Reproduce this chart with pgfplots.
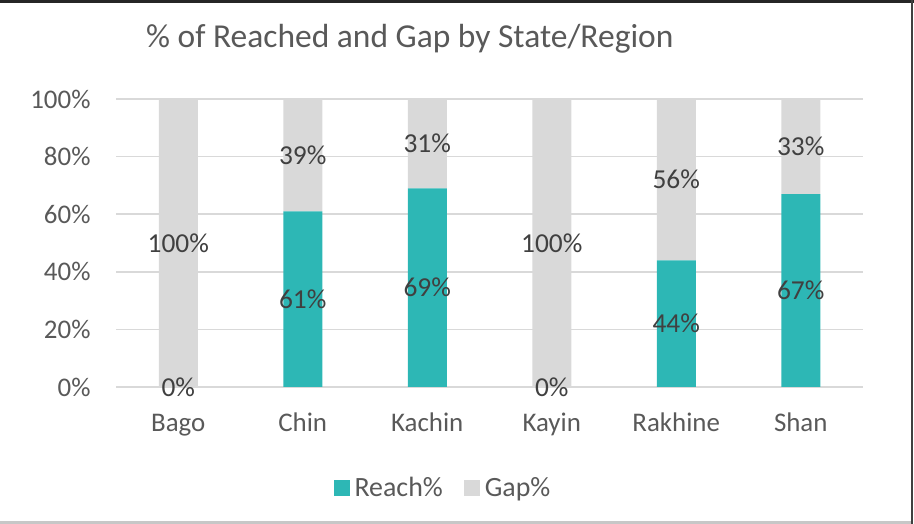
\documentclass[border=0pt]{standalone}
\usepackage{pgfplots}
\pgfplotsset{compat=1.18}
\usepackage{pgfplotstable}
\usepackage{fontspec}
\setmainfont{Carlito}
\definecolor{teal1}{RGB}{45,183,181}
\definecolor{gap1}{RGB}{217,217,217}
\definecolor{txt}{RGB}{64,64,64}
\definecolor{tick}{RGB}{89,89,89}
\pgfplotstableread{
x r g
0 0 100
1 61 39
2 69 31
3 0 100
4 44 56
5 67 33
}\datatab
\begin{document}
\begin{tikzpicture}
\path[use as bounding box] (0,0) rectangle (914bp,524bp);
\draw[line width=2.5bp, black!85] (0,522.5bp) -- (914bp,522.5bp);
\draw[line width=2bp, black!75] (912bp,0) -- (912bp,524bp);
\draw[line width=2bp, black!22] (0,1.5bp) -- (911bp,1.5bp);
\node[anchor=west, text=tick, font=\fontsize{33.6}{38}\selectfont, inner sep=0pt] at (146bp,485.5bp) {\% of Reached and Gap by State/Region};
\begin{axis}[
  at={(116bp,137bp)}, anchor=south west,
  scale only axis, width=747bp, height=288bp,
  ybar stacked, bar width=39bp,
  xmin=-0.5, xmax=5.5, ymin=0, ymax=100,
  xtick={0,...,5},
  xticklabels={Bago,Chin,Kachin,Kayin,Rakhine,Shan},
  ytick={0,20,...,100},
  yticklabel={\pgfmathprintnumber{\tick}\%},
  ymajorgrids, grid style={gap1, line width=1.5bp},
  axis line style={draw=none},
  major tick length=0pt,
  tick label style={text=tick, font=\fontsize{27}{30}\selectfont},
  /pgf/number format/assume math mode=true,
  yticklabel style={xshift=-22bp},
  xticklabel style={yshift=-22bp, text height=19bp, text depth=5bp},
  legend columns=2,
  legend style={at={(0.4377,-0.3507)}, anchor=center, draw=none, fill=none,
    font=\fontsize{28}{30}\selectfont, text=tick,
    nodes={inner xsep=2bp},
    /tikz/every odd column/.append style={column sep=3bp},
    /tikz/every even column/.append style={column sep=19bp}},
  legend image code/.code={\fill[#1] (0bp,-8bp) rectangle (16bp,8bp);},
]
\addplot[fill=teal1, draw=none] table[x=x, y=r] {\datatab};
\addlegendentry{Reach\%}
\addplot[fill=gap1, draw=none] table[x=x, y=g] {\datatab};
\addlegendentry{Gap\%}
\end{axis}
\begin{axis}[
  at={(116bp,137bp)}, anchor=south west,
  scale only axis, width=747bp, height=288bp,
  xmin=-0.5, xmax=5.5, ymin=0, ymax=100,
  hide axis, clip=false,
  nodes near coords={\pgfmathprintnumber{\pgfplotspointmeta}\%},
  every node near coord/.style={anchor=center, text=txt, font=\fontsize{27.5}{30}\selectfont, /pgf/number format/assume math mode=true},
]
\addplot[draw=none, mark=none, point meta=explicit] table[x=x, y expr=\thisrow{r}/2, meta=r] {\datatab};
\addplot[draw=none, mark=none, point meta=explicit] table[x=x, y expr=\thisrow{r}+\thisrow{g}/2, meta=g] {\datatab};
\end{axis}
\end{tikzpicture}
\end{document}
